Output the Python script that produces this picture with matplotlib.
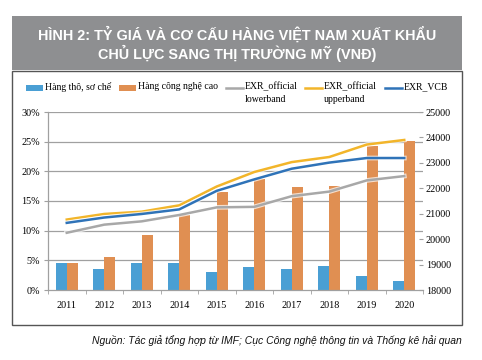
import matplotlib
matplotlib.use('Agg')
import matplotlib.pyplot as plt
import matplotlib.patheffects as pe
from matplotlib.patches import Rectangle
from matplotlib.lines import Line2D
import numpy as np

# data
years = ['2011', '2012', '2013', '2014', '2015', '2016', '2017', '2018', '2019', '2020']
raw_share = [4.5, 3.6, 4.6, 4.6, 3.1, 3.8, 3.5, 4.0, 2.4, 1.6]        # % Hang tho, so che
tech_share = [4.5, 5.5, 9.3, 12.7, 16.6, 18.7, 17.3, 17.5, 24.2, 25.1]  # % Hang cong nghe cao
exr_lower = [20250, 20570, 20700, 20950, 21250, 21270, 21690, 21870, 22310, 22480]
exr_upper = [20770, 20990, 21080, 21330, 22070, 22640, 23030, 23230, 23720, 23900]
exr_vcb = [20640, 20850, 20990, 21170, 21900, 22350, 22770, 23010, 23190, 23190]

pct_ticks = [0, 5, 10, 15, 20, 25, 30]
vnd_ticks = [18000, 19000, 20000, 21000, 22000, 23000, 24000, 25000]

c_blue_bar = '#4A9FD4'
c_orange = '#E08F52'
c_gray = '#A8A8A8'
c_gold = '#F2B52A'
c_blue = '#2F73B8'
c_grid = '#A0A0A0'

W, H = 482, 360
fig = plt.figure(figsize=(W / 100, H / 100), dpi=100, facecolor='w')

def fx(px):
    return px / W

def fy(py):
    return 1 - py / H

serif = ['Liberation Serif', 'DejaVu Serif']
sans = ['Liberation Sans', 'DejaVu Sans']

# title band and chart frame
fig.add_artist(Rectangle((fx(12), fy(70)), fx(450), 54 / H, transform=fig.transFigure,
                         facecolor='#8E8F91', edgecolor='none'))
fig.add_artist(Rectangle((fx(12), fy(325)), fx(450), 254 / H, transform=fig.transFigure,
                         facecolor='none', edgecolor='#555555', linewidth=1.0))
fig.text(fx(237), fy(35), 'HÌNH 2: TỶ GIÁ VÀ CƠ CẤU HÀNG VIỆT NAM XUẤT KHẨU',
         color='w', fontsize=10.4, fontweight='bold', family=sans, ha='center', va='center')
fig.text(fx(237), fy(53), 'CHỦ LỰC SANG THỊ TRƯỜNG MỸ (VNĐ)',
         color='w', fontsize=10.4, fontweight='bold', family=sans, ha='center', va='center')
fig.text(fx(462), fy(341), 'Nguồn: Tác giả tổng hợp từ IMF; Cục Công nghệ thông tin và Thống kê hải quan',
         fontsize=7.5, style='italic', family=sans, ha='right', va='center', color='#111111')

ax = fig.add_axes([fx(48), fy(290), fx(423) - fx(48), (290 - 112) / H])
x = np.arange(len(years))
bw = 0.29
ax.bar(x - bw / 2, raw_share, bw, color=c_blue_bar, zorder=2)
ax.bar(x + bw / 2, tech_share, bw, color=c_orange, zorder=2)
ax.set_xlim(-0.5, len(years) - 0.5)
ax.set_ylim(0, 30)
ax.set_yticks(pct_ticks)
ax.set_yticklabels(['{}%'.format(t) for t in pct_ticks], family=serif, fontsize=7.3)
for t in pct_ticks[1:]:
    ax.axhline(t, color=c_grid, lw=0.9, zorder=1)
ax.set_xticks(x)
ax.set_xticklabels(years, family=serif, fontsize=7.3)
ax.set_xticks(np.arange(len(years) + 1) - 0.5, minor=True)
ax.tick_params(axis='x', which='major', length=0, pad=8)
ax.tick_params(axis='x', which='minor', length=3, color=c_grid, direction='out')
ax.tick_params(axis='y', length=3, color=c_grid, pad=3, direction='out')
for s in ['top', 'right']:
    ax.spines[s].set_visible(False)
for s in ['left', 'bottom']:
    ax.spines[s].set_color(c_grid)
    ax.spines[s].set_linewidth(0.9)

ax2 = ax.twinx()
halo = [pe.Stroke(linewidth=3.4, foreground='w', alpha=0.7), pe.Normal()]
ax2.plot(x, exr_lower, color=c_gray, lw=1.8, path_effects=halo, zorder=3)
ax2.plot(x, exr_upper, color=c_gold, lw=1.8, path_effects=halo, zorder=3)
ax2.plot(x, exr_vcb, color=c_blue, lw=1.8, path_effects=halo, zorder=3)
ax2.set_ylim(18000, 25000)
ax2.set_yticks(vnd_ticks)
ax2.set_yticklabels([str(t) for t in vnd_ticks], family=serif, fontsize=7.3)
ax2.tick_params(axis='y', length=3, color=c_grid, pad=2, direction='in')
for s in ax2.spines.values():
    s.set_visible(False)

# legend drawn by hand to keep handles on the first text line
leg_y = 88
entries = [
    ('patch', c_blue_bar, 26, 'Hàng thô, sơ chế'),
    ('patch', c_orange, 119, 'Hàng công nghệ cao'),
    ('line', c_gray, 226, 'EXR_official\nlowerband'),
    ('line', c_gold, 305, 'EXR_official\nupperband'),
    ('line', c_blue, 385, 'EXR_VCB'),
]
for kind, col, x0, lab in entries:
    if kind == 'patch':
        fig.add_artist(Rectangle((fx(x0), fy(leg_y + 3)), fx(17), 6 / H,
                                 transform=fig.transFigure, facecolor=col, edgecolor='none'))
    else:
        fig.add_artist(Line2D([fx(x0), fx(x0 + 17)], [fy(leg_y), fy(leg_y)],
                              transform=fig.transFigure, color=col, lw=1.8))
    fig.text(fx(x0 + 19), fy(leg_y - 6), lab, family=serif, fontsize=7.0,
             ha='left', va='top', linespacing=1.55)

fig.savefig('out.png', dpi=100, facecolor='w')
